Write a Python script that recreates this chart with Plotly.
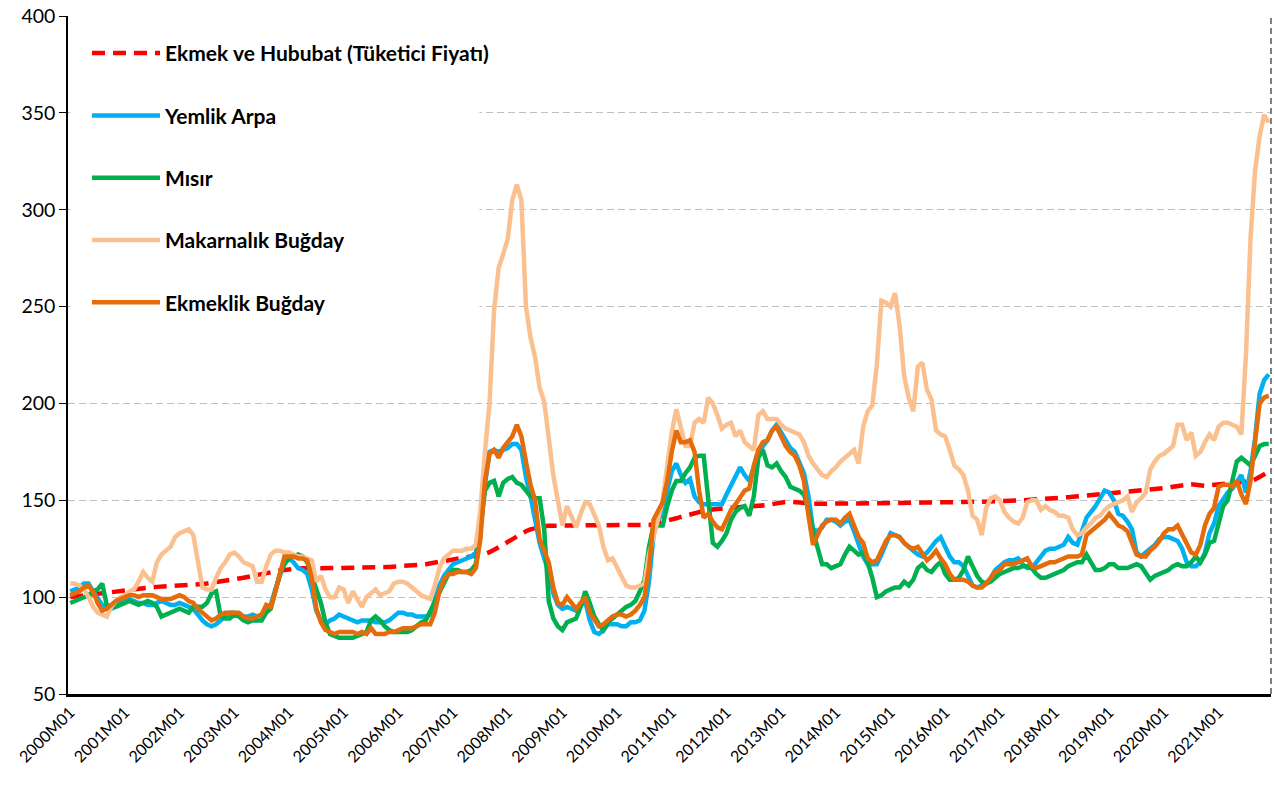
import plotly.graph_objects as go

# ---------------- data (monthly, 2000M01 .. 2021M12) ----------------
years = list(range(2000, 2022))
months = [f"{y}M{m:02d}" for y in years for m in range(1, 13)]
tick_labels = [f"{y}M01" for y in years]

ekmek_hububat = [
    100.0, 100.3, 100.6, 101.0, 101.3, 101.6, 102.0, 102.3, 102.6, 102.9, 103.1, 103.3,
    103.5, 103.7, 104.0, 104.3, 104.6, 104.9, 105.1, 105.3, 105.4, 105.5, 105.6, 105.7,
    105.8, 106.0, 106.2, 106.4, 106.6, 106.8, 107.0, 107.3, 107.6, 108.0, 108.4, 108.8,
    109.2, 109.6, 110.0, 110.4, 110.8, 111.3, 111.8, 112.3, 112.8, 113.3, 113.8, 114.2,
    114.5, 114.7, 114.8, 114.9, 115.0, 115.0, 115.0, 115.0, 115.0, 115.0, 115.0, 115.0,
    115.0, 115.0, 115.0, 115.0, 115.1, 115.2, 115.2, 115.3, 115.4, 115.5, 115.6, 115.7,
    115.8, 116.0, 116.2, 116.4, 116.6, 116.8, 117.0, 117.4, 117.8, 118.2, 118.6, 119.2,
    119.6, 120.0, 120.3, 120.6, 120.9, 121.2, 121.6, 122.3, 123.2, 124.3, 125.5, 127.0,
    128.5, 130.0, 131.5, 132.8, 134.0, 135.0, 135.7, 136.2, 136.6, 136.8, 137.0, 137.0,
    137.0, 137.0, 137.0, 137.0, 137.0, 137.0, 137.0, 137.0, 137.0, 137.0, 137.0, 137.0,
    137.0, 137.0, 137.0, 137.0, 137.0, 137.0, 137.0, 137.3, 137.7, 138.2, 138.8, 139.4,
    140.0, 140.7, 141.4, 142.1, 142.8, 143.4, 144.0, 144.5, 145.0, 145.3, 145.6, 145.8,
    146.0, 146.2, 146.4, 146.5, 146.6, 146.7, 146.8, 147.0, 147.2, 147.5, 148.0, 148.5,
    149.0, 149.2, 149.3, 149.0, 148.8, 148.6, 148.4, 148.3, 148.2, 148.2, 148.2, 148.2,
    148.2, 148.2, 148.2, 148.2, 148.2, 148.2, 148.3, 148.3, 148.3, 148.3, 148.4, 148.4,
    148.4, 148.5, 148.5, 148.6, 148.6, 148.7, 148.7, 148.8, 148.8, 148.9, 148.9, 149.0,
    149.0, 149.0, 149.1, 149.1, 149.1, 149.2, 149.2, 149.2, 149.3, 149.3, 149.4, 149.4,
    149.5, 149.6, 149.7, 149.8, 149.9, 150.0, 150.1, 150.2, 150.3, 150.5, 150.6, 150.8,
    151.0, 151.2, 151.4, 151.6, 151.8, 152.0, 152.2, 152.4, 152.6, 152.8, 153.0, 153.2,
    153.4, 153.6, 153.8, 154.0, 154.2, 154.4, 154.6, 154.8, 155.0, 155.2, 155.4, 155.7,
    156.0, 156.5, 157.0, 157.5, 157.8, 158.0, 158.3, 158.0, 157.6, 157.5, 157.7, 158.0,
    158.3, 158.6, 158.8, 159.0, 159.2, 159.4, 159.6, 160.0, 160.8, 162.0, 163.3, 164.7,
]

yemlik_arpa = [
    103, 104, 105, 107, 107, 103, 99, 96, 95, 94, 95, 97,
    98, 99, 98, 97, 97, 96, 96, 97, 98, 97, 96, 96,
    97, 96, 95, 94, 91, 88, 86, 85, 86, 88, 90, 92,
    92, 91, 90, 90, 91, 90, 91, 95, 96, 104, 112, 118,
    120, 118, 115, 114, 112, 104, 93, 88, 86, 88, 89, 91,
    90, 89, 88, 87, 88, 88, 88, 87, 87, 87, 88, 90,
    92, 92, 91, 91, 90, 90, 90, 91, 98, 106, 111, 114,
    117, 118, 119, 120, 121, 123, 135, 158, 175, 176, 175, 176,
    177, 179, 179, 176, 162, 152, 140, 128, 120, 113, 102, 96,
    94, 95, 94, 93, 96, 98, 88, 82, 81, 83, 86, 86,
    86, 85, 85, 87, 87, 88, 93, 108, 132, 140, 143, 155,
    165, 169, 163, 159, 161, 152, 149, 148, 148, 148, 148, 148,
    153, 158, 162, 167, 163, 160, 167, 173, 178, 181, 186, 189,
    185, 180, 177, 175, 170, 164, 152, 135, 134, 136, 140, 140,
    139, 137, 139, 140, 134, 127, 121, 117, 117, 117, 122, 128,
    133, 132, 131, 128, 126, 124, 122, 121, 123, 126, 129, 131,
    126, 121, 118, 118, 116, 111, 106, 105, 106, 107, 110, 114,
    116, 118, 119, 119, 120, 117, 115, 115, 118, 121, 124, 125,
    125, 126, 127, 131, 128, 127, 134, 141, 144, 147, 151, 155,
    154, 150, 143, 142, 139, 135, 123, 121, 123, 125, 127, 130,
    131, 131, 130, 129, 125, 118, 116, 116, 118, 123, 133, 138,
    147, 151, 154, 156, 160, 163, 154, 165, 182, 205, 212, 215,
]

misir = [
    97, 98, 99, 100, 101, 103, 104, 107, 96, 95, 95, 96,
    97, 98, 97, 96, 97, 98, 97, 95, 90, 91, 92, 93,
    94, 93, 92, 95, 95, 95, 97, 102, 103, 90, 89, 89,
    91, 90, 88, 87, 88, 88, 88, 92, 94, 103, 112, 117,
    120, 121, 122, 121, 118, 111, 104, 97, 87, 81, 80, 79,
    79, 79, 79, 80, 81, 82, 88, 90, 88, 85, 83, 82,
    82, 82, 82, 83, 85, 87, 88, 93, 98, 102, 108, 112,
    114, 114, 113, 113, 114, 117, 135, 155, 159, 160, 152, 159,
    161, 162, 159, 158, 155, 152, 151, 151, 135, 98, 89, 85,
    83, 87, 88, 89, 95, 103, 97, 90, 86, 83, 87, 89,
    91, 93, 95, 96, 98, 103, 109, 126, 137, 137, 137, 147,
    155, 160, 160, 164, 167, 172, 173, 173, 150, 128, 126, 129,
    133, 140, 144, 146, 147, 142, 152, 172, 176, 168, 167, 169,
    165, 162, 157, 156, 155, 153, 145, 134, 126, 117, 117, 115,
    116, 117, 122, 126, 124, 122, 123, 118, 110, 100, 101, 103,
    104, 105, 105, 108, 106, 109, 115, 117, 114, 113, 116, 118,
    112, 109, 109, 110, 114, 121, 116, 111, 108, 107, 108, 110,
    112, 113, 114, 115, 115, 116, 116, 115, 112, 110, 110, 111,
    112, 113, 114, 116, 117, 118, 118, 122, 118, 114, 114, 115,
    117, 117, 115, 115, 115, 116, 117, 116, 112, 109, 111, 112,
    113, 114, 116, 117, 116, 116, 118, 121, 118, 122, 128, 129,
    138, 147, 150, 160, 170, 172, 170, 168, 173, 178, 179, 179,
]

makarnalik_bugday = [
    107, 107, 106, 104, 100, 95, 92, 91, 90, 95, 98, 100,
    101, 103, 104, 108, 113, 110, 108, 118, 122, 124, 126, 131,
    133, 134, 135, 132, 118, 105, 104, 104, 110, 115, 118, 122,
    123, 121, 118, 117, 116, 108, 108, 116, 122, 124, 124, 123,
    123, 122, 121, 121, 120, 119, 108, 111, 104, 100, 100, 105,
    104, 97, 103, 99, 95, 100, 102, 104, 101, 102, 103, 107,
    108, 108, 107, 105, 103, 101, 100, 99, 106, 115, 120, 122,
    124, 124, 124, 125, 125, 127, 145, 175, 200, 248, 270, 277,
    285, 305, 313, 305, 250, 234, 224, 208, 201, 182, 163, 150,
    137, 147, 141, 136, 143, 149, 148, 142, 137, 126, 119, 120,
    115, 110, 106, 105, 105, 106, 107, 122, 132, 140, 150, 168,
    185, 197, 188, 178, 178, 190, 192, 190, 203, 200, 194, 187,
    189, 190, 183, 186, 180, 178, 176, 194, 196, 192, 192, 192,
    189, 187, 186, 185, 184, 180, 173, 169, 166, 163, 162, 165,
    167, 170, 172, 174, 176, 169, 188, 196, 199, 220, 253, 252,
    250, 257, 240, 214, 203, 196, 219, 221, 207, 202, 186, 184,
    183, 176, 168, 166, 163, 155, 142, 140, 132, 146, 151, 152,
    150, 144, 141, 139, 138, 141, 149, 150, 150, 145, 147, 145,
    144, 142, 142, 141, 135, 132, 133, 136, 138, 141, 142, 145,
    147, 148, 149, 150, 152, 144, 149, 151, 154, 166, 170, 173,
    174, 176, 178, 189, 189, 181, 185, 173, 175, 180, 184, 181,
    188, 190, 190, 189, 188, 184, 225, 285, 320, 338, 349, 345,
]

ekmeklik_bugday = [
    101, 102, 103, 105, 106, 103, 97, 93, 94, 96, 98, 99,
    100, 101, 101, 100, 101, 101, 101, 100, 99, 99, 99, 100,
    101, 100, 98, 97, 94, 92, 90, 88, 89, 91, 92, 92,
    92, 92, 90, 89, 89, 90, 91, 96, 95, 103, 113, 121,
    121, 121, 120, 120, 119, 110, 94, 87, 83, 82, 81, 82,
    82, 82, 82, 81, 82, 81, 84, 81, 81, 81, 82, 82,
    83, 84, 84, 84, 85, 86, 86, 86, 92, 103, 109, 112,
    112, 113, 113, 113, 112, 115, 130, 160, 174, 176, 172, 177,
    180, 183, 189, 183, 170, 158, 150, 130, 124, 118, 105, 97,
    96, 100, 97, 94, 97, 100, 92, 88, 85, 86, 88, 90,
    91, 91, 90, 91, 93, 96, 100, 115, 140, 145, 149, 160,
    175, 186, 180, 180, 181, 175, 155, 141, 143, 139, 136, 135,
    140, 145, 148, 152, 155, 156, 168, 176, 180, 181, 186, 188,
    183, 178, 175, 173, 168, 160, 142, 127, 132, 137, 139, 140,
    140, 138, 141, 143, 137, 131, 128, 120, 118, 119, 124, 129,
    132, 132, 131, 128, 126, 125, 126, 122, 119, 121, 124, 120,
    117, 112, 109, 109, 109, 108, 106, 105, 105, 107, 110, 113,
    114, 117, 117, 117, 118, 119, 120, 116, 115, 116, 117, 118,
    118, 119, 120, 121, 121, 121, 122, 132, 134, 136, 138, 140,
    143, 140, 137, 136, 134, 128, 122, 121, 121, 124, 126, 129,
    133, 135, 135, 137, 132, 127, 123, 122, 127, 137, 143, 146,
    157, 158, 158, 157, 160, 153, 148, 160, 178, 200, 203, 204,
]

series = [
    ("Ekmek ve Hububat (Tüketici Fiyatı)", ekmek_hububat, "#FF0000", "13px,8px"),
    ("Yemlik Arpa", yemlik_arpa, "#00B0F0", "solid"),
    ("Mısır", misir, "#00B050", "solid"),
    ("Makarnalık Buğday", makarnalik_bugday, "#FAC090", "solid"),
    ("Ekmeklik Buğday", ekmeklik_bugday, "#E46C0A", "solid"),
]

FONT = "Lato, 'Open Sans', sans-serif"

fig = go.Figure()
for i, (name, vals, color, dash) in enumerate(series):
    fig.add_trace(go.Scatter(
        x=months, y=vals, name=name, mode="lines",
        legendgroup=f"g{i}",
        line=dict(color=color, width=4.5, dash=dash),
    ))

fig.update_layout(
    width=1274, height=798,
    margin=dict(l=68, r=3, t=16, b=104),
    plot_bgcolor="white", paper_bgcolor="white",
    font=dict(family=FONT, color="black"),
    showlegend=True,
    legend=dict(
        x=0.0158, y=0.975, xanchor="left", yanchor="top",
        bgcolor="rgba(0,0,0,0)", borderwidth=0,
        font=dict(family=FONT, size=21, color="black", weight="bold"),
        tracegroupgap=32, itemwidth=68,
    ),
    xaxis=dict(
        type="category", range=[-0.5, len(months) - 0.5],
        tickmode="array", tickvals=tick_labels, ticktext=tick_labels,
        tickangle=-45, tickfont=dict(size=16, family=FONT),
        showgrid=False, showline=True, linecolor="black", linewidth=2.5,
        ticks="", ticklen=3, tickcolor="black",
    ),
    yaxis=dict(
        range=[50, 400], tickvals=[50, 100, 150, 200, 250, 300, 350, 400],
        tickfont=dict(size=19.5, family=FONT),
        showgrid=True, gridcolor="#BFBFBF", gridwidth=1.4, griddash="7px,4px",
        showline=True, linecolor="black", linewidth=1.5,
        ticks="outside", ticklen=7, tickcolor="black", zeroline=False,
    ),
)

# white legend area that hides the gridlines behind the legend (as in the source);
# no data passes through this region, the legend itself is drawn on top of it
fig.add_shape(type="rect", xref="paper", yref="paper", x0=0.002, x1=0.342, y0=0.545, y1=0.985,
              fillcolor="white", line=dict(width=0), layer="above")
# right border of the plot area, dashed grey as in the source
fig.add_shape(type="line", xref="paper", yref="paper", x0=1, x1=1, y0=0, y1=1,
              line=dict(color="#808080", width=2, dash="6px,4px"))

fig.write_html("out.html", config={"displayModeBar": False},
               post_script="document.body.style.margin='0';")
